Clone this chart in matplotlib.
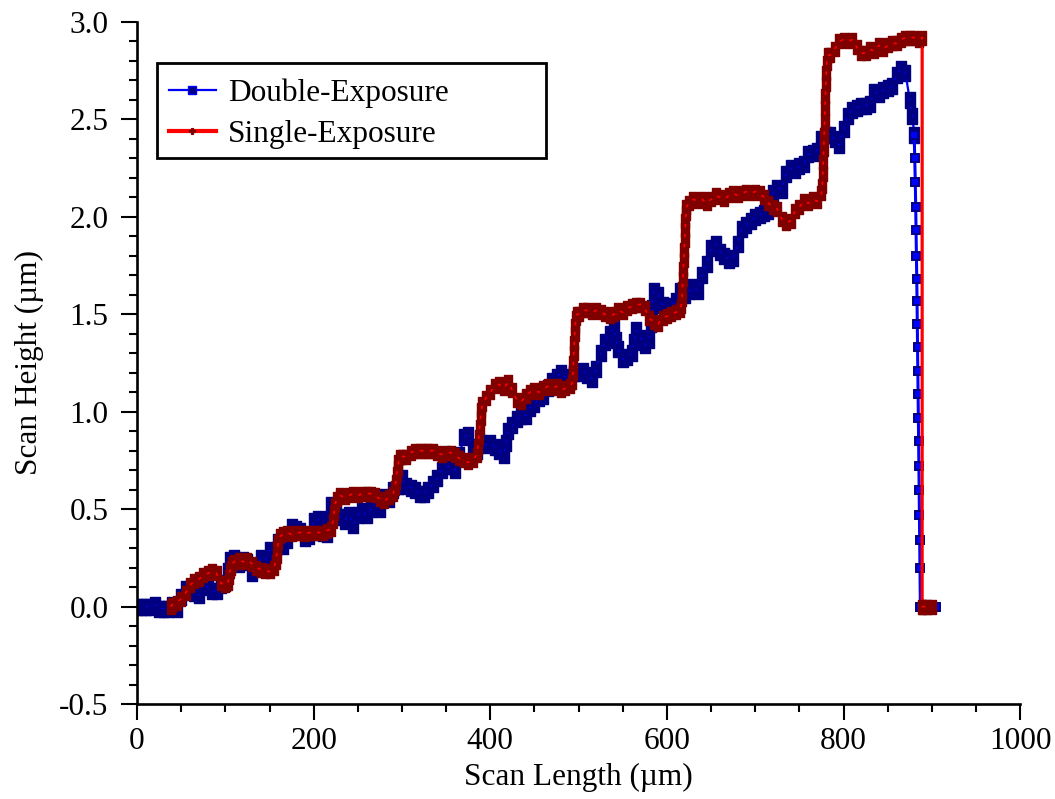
import matplotlib
matplotlib.use("Agg")
import matplotlib.pyplot as plt
from matplotlib.lines import Line2D
from matplotlib.patches import Rectangle
from matplotlib.path import Path
from matplotlib.ticker import MultipleLocator

plt.rcParams["font.family"] = ["Liberation Serif", "DejaVu Serif"]
plt.rcParams["axes.unicode_minus"] = False

# Double-exposure profile (scan length in um, height in um)
double_x = [
    0, 5, 10, 15, 20, 25, 30, 35, 40, 45, 50, 55, 60, 65, 70, 75, 80, 85, 90, 95,
    100, 102.5, 105, 110, 115, 120, 125, 130, 135, 140, 145, 150, 155, 160, 165, 170, 175,
    180, 185, 190, 195, 200, 205, 210, 215, 217.5, 220, 225, 230, 235, 240, 245, 250, 255,
    260, 265, 270, 275, 280, 285, 290, 295, 300, 305, 310, 315, 320, 325, 330, 335,
    340, 345, 350, 355, 360, 365, 370, 375, 380, 385, 390, 395, 400, 405, 410, 415,
    417.5, 420, 425, 430, 435, 440, 445, 450, 455, 460, 465, 470, 475, 480, 485, 490, 495,
    500, 505, 510, 515, 520, 525, 530, 535, 540, 542.5, 545, 550, 555, 560, 562.5, 565, 570, 575,
    580, 581.5, 583, 585, 590, 595, 600, 605, 610, 615, 620, 625, 630, 635, 640, 645, 650, 655,
    660, 665, 670, 675, 680, 685, 690, 695, 700, 705, 710, 715, 720, 725, 730, 735,
    740, 745, 750, 755, 760, 765, 770, 775, 780, 785, 790, 795, 800, 805, 810, 815,
    820, 825, 830, 835, 840, 845, 850, 855, 860, 865, 870, 875, 878, 880, 880.6,
    881.2, 881.7, 882.1, 882.5, 882.9, 883.2, 883.5, 883.8, 884.1, 884.4, 884.7,
    885.0, 885.3, 885.6, 885.9, 886.2, 886.5, 887, 890, 895, 900, 905,
]
double_y = [
    0.00, 0.00, 0.00, 0.00, 0.01, -0.01, -0.01, -0.01, 0.01, -0.01, 0.05, 0.09, 0.09, 0.07, 0.06, 0.12, 0.10, 0.08, 0.08, 0.11,
    0.12, 0.18, 0.24, 0.25, 0.22, 0.24, 0.23, 0.17, 0.20, 0.25, 0.24, 0.29, 0.28, 0.33, 0.31, 0.34, 0.41,
    0.40, 0.39, 0.35, 0.36, 0.44, 0.45, 0.38, 0.37, 0.45, 0.52, 0.50, 0.46, 0.44, 0.47, 0.42, 0.47, 0.49,
    0.47, 0.50, 0.53, 0.50, 0.56, 0.55, 0.60, 0.62, 0.66, 0.62, 0.61, 0.60, 0.58, 0.58, 0.60, 0.63,
    0.66, 0.70, 0.72, 0.72, 0.70, 0.78, 0.87, 0.88, 0.82, 0.80, 0.84, 0.83, 0.84, 0.82, 0.80, 0.78,
    0.84, 0.90, 0.93, 0.96, 0.98, 0.98, 1.02, 1.04, 1.07, 1.08, 1.12, 1.16, 1.18, 1.20, 1.18, 1.16, 1.20,
    1.20, 1.21, 1.19, 1.17, 1.22, 1.30, 1.36, 1.40, 1.43, 1.37, 1.32, 1.27, 1.28, 1.30, 1.36, 1.42, 1.38, 1.34,
    1.37, 1.45, 1.53, 1.62, 1.60, 1.55, 1.52, 1.54, 1.57, 1.62, 1.60, 1.62, 1.64, 1.62, 1.70, 1.76, 1.84, 1.86,
    1.82, 1.80, 1.78, 1.79, 1.86, 1.94, 1.96, 1.98, 2.00, 2.01, 2.02, 2.03, 2.12, 2.15, 2.14, 2.22,
    2.25, 2.24, 2.26, 2.27, 2.32, 2.33, 2.34, 2.40, 2.42, 2.42, 2.40, 2.37, 2.45, 2.52, 2.55, 2.56,
    2.57, 2.57, 2.58, 2.64, 2.63, 2.65, 2.66, 2.67, 2.73, 2.76, 2.74, 2.60, 2.52, 2.42, 2.30,
    2.18, 2.05, 1.93, 1.80, 1.68, 1.57, 1.45, 1.33, 1.21, 1.09, 0.97,
    0.85, 0.72, 0.60, 0.47, 0.34, 0.20, 0.00, -0.01, 0.00, -0.01, 0.00,
]

# Single-exposure profile
single_x = [
    38, 40, 45, 50, 55, 60, 65, 70, 75, 80, 85, 90, 95, 100, 103, 104, 105, 106, 108, 110, 115,
    120, 125, 130, 135, 140, 145, 150, 155, 157, 158, 159, 160, 162, 165, 170, 175, 180, 185,
    190, 195, 200, 205, 210, 215, 220, 222, 223, 224, 226, 230, 235, 240, 245, 250, 255,
    260, 265, 270, 275, 280, 285, 290, 292, 293, 294, 295, 296, 298, 300, 305, 310, 315, 320, 325,
    330, 335, 340, 345, 350, 355, 360, 365, 370, 375, 380, 385, 386, 387, 388, 389, 390, 391, 395,
    400, 405, 410, 415, 420, 425, 430, 435, 440, 445, 450, 455, 460, 465, 470, 475,
    480, 485, 490, 493, 493.5, 494, 494.5, 495, 495.5, 496, 497, 498, 500, 505, 510, 515, 520, 525, 530, 535, 540, 545,
    550, 555, 560, 565, 570, 575, 580, 585, 590, 595, 600, 605, 610, 615, 616, 617, 617.5, 618,
    618.5, 619, 619.5, 620, 620.5, 621, 621.5, 622, 625, 630, 635, 640, 645, 650, 655, 660, 665, 670, 675,
    680, 685, 690, 695, 700, 705, 710, 715, 720, 725, 730, 735, 740, 745, 750, 755, 760, 765, 770, 775,
    776, 776.5, 777, 777.5, 778, 778.5, 779, 779.5, 780, 780.5, 781, 782, 785, 790, 795, 800, 805, 810, 815,
    820, 825, 830, 835, 840, 845, 850, 855, 860, 865, 870, 875, 880, 885, 889, 889, 890, 895, 900,
]
single_y = [
    0.00, 0.01, 0.02, 0.04, 0.07, 0.11, 0.13, 0.14, 0.16, 0.17, 0.18, 0.17, 0.12, 0.11, 0.12, 0.15, 0.18, 0.20, 0.22, 0.23, 0.24,
    0.23, 0.24, 0.22, 0.20, 0.19, 0.18, 0.18, 0.20, 0.23, 0.26, 0.30, 0.33, 0.36, 0.37, 0.38, 0.37, 0.38, 0.38,
    0.37, 0.38, 0.38, 0.38, 0.38, 0.39, 0.40, 0.44, 0.48, 0.52, 0.55, 0.57, 0.56, 0.57, 0.58, 0.57, 0.58,
    0.58, 0.58, 0.57, 0.55, 0.54, 0.56, 0.58, 0.61, 0.64, 0.68, 0.71, 0.74, 0.77, 0.77, 0.77, 0.79, 0.80, 0.80, 0.80,
    0.80, 0.80, 0.79, 0.78, 0.79, 0.79, 0.78, 0.76, 0.75, 0.74, 0.75, 0.78, 0.82, 0.87, 0.92, 0.97, 1.01, 1.04, 1.07,
    1.10, 1.13, 1.14, 1.12, 1.15, 1.11, 1.06, 1.05, 1.08, 1.10, 1.11, 1.10, 1.12, 1.13, 1.12, 1.13,
    1.11, 1.12, 1.13, 1.15, 1.20, 1.25, 1.30, 1.35, 1.40, 1.44, 1.48, 1.50, 1.50, 1.52, 1.52, 1.51, 1.52, 1.51, 1.50, 1.49, 1.50, 1.52,
    1.51, 1.53, 1.54, 1.55, 1.55, 1.53, 1.48, 1.46, 1.45, 1.48, 1.49, 1.50, 1.51, 1.52, 1.54, 1.58, 1.63, 1.68,
    1.73, 1.78, 1.83, 1.88, 1.93, 1.98, 2.02, 2.05, 2.07, 2.09, 2.08, 2.09, 2.07, 2.09, 2.11, 2.10, 2.09, 2.11, 2.12,
    2.11, 2.12, 2.13, 2.12, 2.13, 2.12, 2.10, 2.07, 2.05, 2.04, 1.99, 1.97, 1.98, 2.03, 2.05, 2.08, 2.07, 2.09, 2.08, 2.12,
    2.16, 2.22, 2.28, 2.35, 2.42, 2.49, 2.56, 2.62, 2.68, 2.74, 2.79, 2.83, 2.83, 2.86, 2.90, 2.91, 2.90, 2.91, 2.87,
    2.84, 2.84, 2.86, 2.85, 2.88, 2.86, 2.88, 2.89, 2.89, 2.91, 2.92, 2.92, 2.92, 2.91, 2.92, 0.00, 0.00, 0.00, 0.00,
]

x_ticks = [0, 200, 400, 600, 800, 1000]
y_ticks = [-0.5, 0.0, 0.5, 1.0, 1.5, 2.0, 2.5, 3.0]

FS = 22.5
BLUE, NAVY = "#0000FF", "#000080"
RED, MAROON = "#FF0000", "#800000"


def bar_marker(aspect):
    """Upright rectangle marker, width = aspect * height."""
    w = aspect / 2.0
    return Path([(-w, -0.5), (w, -0.5), (w, 0.5), (-w, 0.5), (-w, -0.5)],
                [Path.MOVETO, Path.LINETO, Path.LINETO, Path.LINETO, Path.CLOSEPOLY])


fig = plt.figure(figsize=(10.55, 7.99), dpi=100)
ax = fig.add_axes([0.1299, 0.1189, 0.8371, 0.8536])

# the dense scan is drawn with chunky markers; the fall-off edge with small ones
split = next(i for i, v in enumerate(double_x) if v >= 880)
ax.plot(double_x[:split + 1], double_y[:split + 1], color=BLUE, lw=1.6,
        marker=bar_marker(0.55), ms=12.2, mfc=NAVY, mec=NAVY, mew=1.0, zorder=2)
ax.plot(double_x[:split + 1], double_y[:split + 1], color=BLUE, lw=0.8,
        ls=(0, (2, 6)), zorder=2.1)
ax.plot(double_x[split:], double_y[split:], color=BLUE, lw=2.2,
        marker="s", ms=5.2, mfc=BLUE, mec=NAVY, mew=1.4, zorder=2)

ax.plot(single_x, single_y, color=RED, lw=2.3,
        marker=bar_marker(0.6), ms=9.4, mfc=MAROON, mec=MAROON, mew=1.0, zorder=3)
ax.plot(single_x, single_y, color=RED, lw=1.2, ls=(0, (2, 4)), zorder=3.1)

ax.set_xlim(0, 1000)
ax.set_ylim(-0.5, 3.0)
ax.set_xticks(x_ticks)
ax.set_yticks(y_ticks)
ax.set_xticklabels([str(v) for v in x_ticks])
ax.set_yticklabels([f"{v:.1f}" for v in y_ticks])
ax.xaxis.set_minor_locator(MultipleLocator(50))
ax.yaxis.set_minor_locator(MultipleLocator(0.1))

for side in ("top", "right"):
    ax.spines[side].set_visible(False)
for side in ("left", "bottom"):
    ax.spines[side].set_linewidth(1.9)

ax.tick_params(which="major", direction="out", length=11.5, width=1.5,
               labelsize=FS)
ax.tick_params(which="minor", direction="out", length=5.8, width=1.5)
ax.tick_params(axis="x", which="major", pad=5)
ax.tick_params(axis="y", which="major", pad=9)

ax.set_xlabel("Scan Length (\u00b5m)", fontsize=FS, labelpad=5)
ax.set_ylabel("Scan Height (\u00b5m)", fontsize=FS, labelpad=11)

# legend box with a wide right margin
frame = Rectangle((0.0227, 0.8006), 0.4405, 0.1393, transform=ax.transAxes,
                  facecolor="white", edgecolor="black", lw=2.0, zorder=4,
                  clip_on=False)
ax.add_patch(frame)
handles = [
    Line2D([], [], color=BLUE, lw=1.6, marker="s", ms=5.2, mfc=NAVY, mec=BLUE, mew=1.0),
    Line2D([], [], color=RED, lw=3.0, marker="P", ms=5.0, mfc=MAROON, mec=MAROON, mew=0.8),
]
leg = ax.legend(handles, ["Double-Exposure", "Single-Exposure"],
                loc="upper left", bbox_to_anchor=(0.036, 0.917), frameon=False,
                fontsize=FS, numpoints=1, handlelength=1.5, handletextpad=0.4,
                labelspacing=0.39, borderpad=0, borderaxespad=0)
leg.set_zorder(5)

fig.savefig("out.png", dpi=100)
